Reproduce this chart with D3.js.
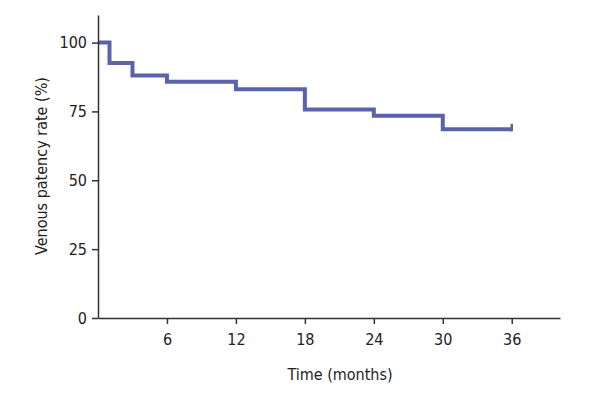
<!DOCTYPE html>
<html>
<head>
<meta charset="utf-8">
<script src="https://cdn.jsdelivr.net/npm/d3@7"></script>
<style>
  body { margin: 0; background: #fff; }
  svg { display: block; }
  text { font-family: "DejaVu Sans Condensed", "Liberation Sans Narrow", "Open Sans", sans-serif; fill: #222; }
</style>
</head>
<body>
<svg id="chart" width="600" height="400"></svg>
<script>
// Step change times (months) and survival levels (%)
const times = [0, 1, 3, 6, 12, 18, 24, 30, 36];
const patency = [100, 92.6, 88.0, 85.8, 83.0, 75.7, 73.4, 68.5, 68.5];
const censorTime = [36];
const censorTop = [70.5];
const xTicks = [6, 12, 18, 24, 30, 36];
const yTicks = [0, 25, 50, 75, 100];

const svg = d3.select("#chart");
const x = d3.scaleLinear().domain([0, 40.2]).range([98, 560]);
const y = d3.scaleLinear().domain([0, 110]).range([318, 15]);

// step line
const pts = times.map((t, i) => [t, patency[i]]);
const line = d3.line().x(d => x(d[0])).y(d => y(d[1])).curve(d3.curveStepAfter);
svg.append("path")
  .datum(pts)
  .attr("fill", "none")
  .attr("stroke", "#5b62ad")
  .attr("stroke-width", 4)
  .attr("d", line);

// censor tick
svg.selectAll(".censor").data(censorTime).enter().append("line")
  .attr("x1", d => x(d)).attr("x2", d => x(d))
  .attr("y1", y(patency[patency.length - 1]) + 2)
  .attr("y2", (d, i) => y(censorTop[i]))
  .attr("stroke", "#5b62ad").attr("stroke-width", 2.5);

// axes
const xAxis = d3.axisBottom(x).tickValues(xTicks).tickSize(6).tickSizeOuter(0).tickPadding(10);
const yAxis = d3.axisLeft(y).tickValues(yTicks).tickSize(6).tickSizeOuter(0).tickPadding(5);

const gx = svg.append("g").attr("transform", `translate(0,${y(0)})`).call(xAxis);
const gy = svg.append("g").attr("transform", `translate(${x(0)},0)`).call(yAxis);

[gx, gy].forEach(g => {
  g.select(".domain").attr("stroke", "#333").attr("stroke-width", 1.5);
  g.selectAll(".tick line").attr("stroke", "#333").attr("stroke-width", 1.5);
  g.selectAll(".tick text").attr("font-size", 16).attr("fill", "#222")
    .attr("font-family", '"DejaVu Sans Condensed", "Liberation Sans Narrow", sans-serif');
});

// axis titles
svg.append("text")
  .attr("x", 340).attr("y", 380)
  .attr("text-anchor", "middle").attr("font-size", 16)
  .text("Time (months)");

svg.append("text")
  .attr("transform", `translate(47,166) rotate(-90)`)
  .attr("text-anchor", "middle").attr("font-size", 16)
  .text("Venous patency rate (%)");
</script>
</body>
</html>
